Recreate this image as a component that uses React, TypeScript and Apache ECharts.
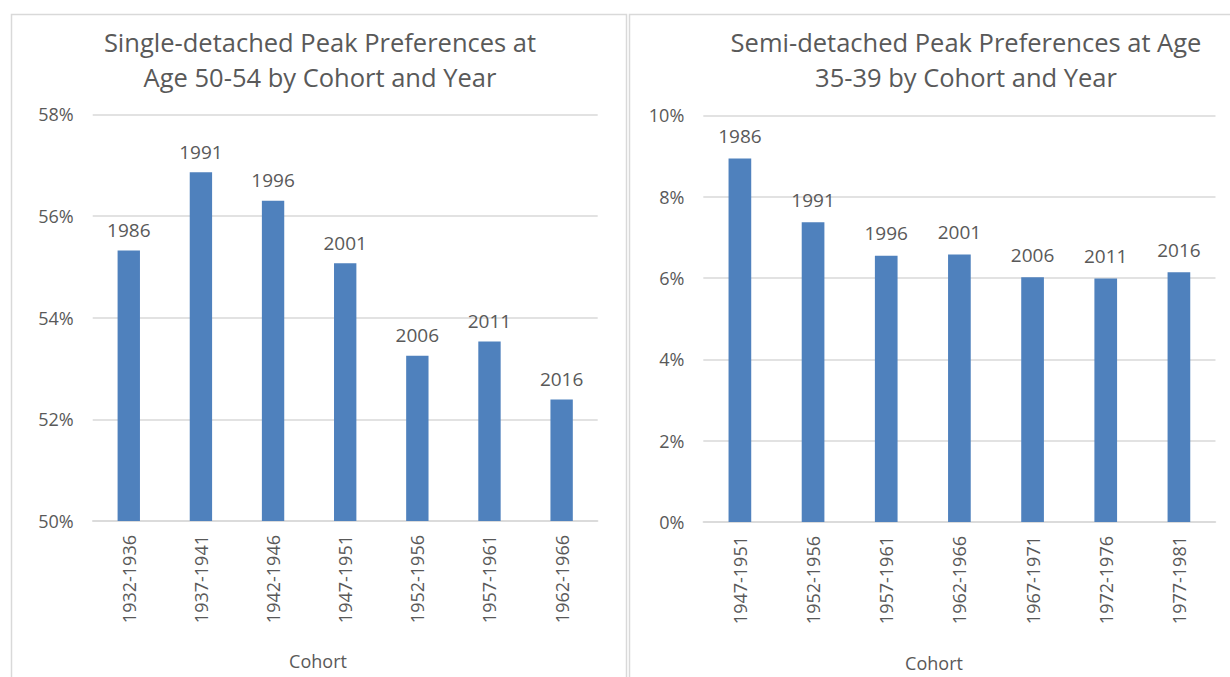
import React, { useEffect, useRef } from "react";
import * as echarts from "echarts";

const leftCohorts = ["1932-1936", "1937-1941", "1942-1946", "1947-1951", "1952-1956", "1957-1961", "1962-1966"];
const leftValues = [55.32, 56.86, 56.30, 55.07, 53.25, 53.53, 52.39];
const leftYears = ["1986", "1991", "1996", "2001", "2006", "2011", "2016"];

const rightCohorts = ["1947-1951", "1952-1956", "1957-1961", "1962-1966", "1967-1971", "1972-1976", "1977-1981"];
const rightValues = [8.94, 7.37, 6.55, 6.58, 6.02, 5.99, 6.14];
const rightYears = ["1986", "1991", "1996", "2001", "2006", "2011", "2016"];

const leftTitle = "Single-detached Peak Preferences at\nAge 50-54 by Cohort and Year";
const rightTitle = "Semi-detached Peak Preferences at Age\n35-39 by Cohort and Year";
const xAxisTitle = "Cohort";

const FONT = "'Open Sans', sans-serif";
const TXT = "#595959";
const GRID = "#d9d9d9";
const BAR = "#4f81bd";

export default function App() {
  const ref = useRef<HTMLDivElement>(null);
  useEffect(() => {
    if (!ref.current) return;
    const chart = echarts.init(ref.current, null, { renderer: "svg" });
    const titleStyle = { fontSize: 25.5, lineHeight: 35, fontWeight: "normal", color: TXT, fontFamily: FONT };
    const axisLabel = { color: TXT, fontSize: 18, fontFamily: FONT };
    const makeX = (idx: number, cats: string[]) => ({
      type: "category",
      gridIndex: idx,
      data: cats,
      axisTick: { show: false },
      axisLine: { show: true, lineStyle: { color: GRID, width: 1.5 } },
      axisLabel: { ...axisLabel, rotate: 90, margin: 14, interval: 0 },
    });
    const makeY = (idx: number, min: number, max: number) => ({
      type: "value",
      gridIndex: idx,
      min,
      max,
      interval: 2,
      axisLine: { show: false },
      axisTick: { show: false },
      splitLine: { lineStyle: { color: GRID, width: 1.5 } },
      axisLabel: { ...axisLabel, margin: 19, formatter: "{value}%" },
    });
    const makeSeries = (idx: number, values: number[], years: string[], dist: number) => ({
      type: "bar",
      xAxisIndex: idx,
      yAxisIndex: idx,
      data: values,
      barWidth: "31%",
      itemStyle: { color: BAR },
      label: {
        show: true,
        position: "top",
        distance: dist,
        color: TXT,
        fontSize: 19,
        fontFamily: FONT,
        formatter: (p: any) => years[p.dataIndex],
      },
    });
    chart.setOption({
      animation: false,
      backgroundColor: "#ffffff",
      title: [
        { text: leftTitle, left: 315, top: 19, textAlign: "center", textStyle: titleStyle },
        { text: rightTitle, left: 961, top: 19, textAlign: "center", textStyle: titleStyle },
      ],
      grid: [
        { left: 92.7, top: 114.3, width: 505, height: 406.7, containLabel: false },
        { left: 703.3, top: 115.4, width: 512.2, height: 406.6, containLabel: false },
      ],
      xAxis: [makeX(0, leftCohorts), makeX(1, rightCohorts)],
      yAxis: [makeY(0, 50, 58), makeY(1, 0, 10)],
      series: [makeSeries(0, leftValues, leftYears, 11), makeSeries(1, rightValues, rightYears, 13)],
      graphic: [
        { type: "rect", shape: { x: 11.5, y: 14.5, width: 615, height: 700 }, style: { fill: "none", stroke: GRID, lineWidth: 1.5 }, silent: true },
        { type: "rect", shape: { x: 629.5, y: 14.5, width: 620, height: 700 }, style: { fill: "none", stroke: GRID, lineWidth: 1.5 }, silent: true },
        { type: "text", x: 318, y: 661, style: { text: xAxisTitle, textAlign: "center", textVerticalAlign: "middle", fill: TXT, font: `18px ${FONT}` } },
        { type: "text", x: 934, y: 663, style: { text: xAxisTitle, textAlign: "center", textVerticalAlign: "middle", fill: TXT, font: `18px ${FONT}` } },
      ],
    });
    return () => chart.dispose();
  }, []);
  return <div ref={ref} style={{ position: "fixed", left: 0, top: 0, width: 1230, height: 677 }} />;
}
